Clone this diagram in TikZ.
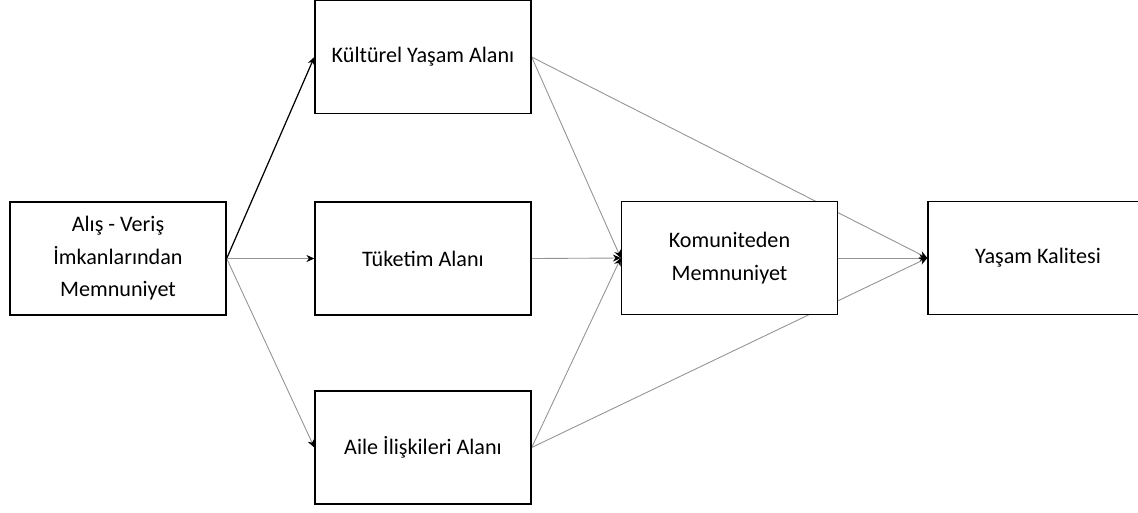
\documentclass[tikz,border=0pt]{standalone}
\usepackage{fontspec}
\setmainfont{Carlito}
\usetikzlibrary{arrows.meta,backgrounds}

\tikzset{
  alanbox/.style={draw,thick,fill=white,minimum width=4.32cm,minimum height=2.26cm,align=center,font=\fontsize{12.6}{18.5}\selectfont},
  yol/.style={draw=gray!85,line width=0.5pt,-{Stealth[length=4.5pt,width=4pt,black]}},
  yolkoyu/.style={draw=black,line width=0.7pt,-{Stealth[length=4.5pt,width=4pt,black]}}
}

\begin{document}
\begin{tikzpicture}[x=0.02cm,y=-0.02cm]
        \clip (0,0) rectangle (1138,512);
        \coordinate (a1) at (118,258.5);
        \coordinate (k1) at (423,57);
        \coordinate (k2) at (423,258.5);
        \coordinate (k3) at (423,447.5);
        \coordinate (m1) at (729.5,258);
        \coordinate (y1) at (1048,258);
        \node[alanbox] (alis) at (a1) {Alış - Veriş\\İmkanlarından\\Memnuniyet};
        \node[alanbox] (kultur) at (k1) {Kültürel Yaşam Alanı};
        \node[alanbox] (tuketim) at (k2) {Tüketim Alanı};
        \node[alanbox] (aile) at (k3) {Aile İlişkileri Alanı};
        \node[alanbox] (komunite) at (m1) {Komuniteden\\Memnuniyet};
        \node[alanbox,minimum width=4.8cm] (yasam) at (y1) {\hspace*{-0.4cm}Yaşam Kalitesi};
        \begin{pgfonlayer}{background}
        \draw[yolkoyu] (alis.east) -- (kultur.west);
        \draw[yol] (alis.east) -- (tuketim.west);
        \draw[yol] (alis.east) -- (aile.west);
        \draw[yol] (kultur.east) -- (komunite.west);
        \draw[yol] (tuketim.east) -- (komunite.west);
        \draw[yol] (aile.east) -- (komunite.west);
        \draw[yol] (kultur.east) -- (yasam.west);
        \draw[yol] (komunite.east) -- (yasam.west);
        \draw[yol] (aile.east) -- (yasam.west);
        \end{pgfonlayer}
    \end{tikzpicture}
\end{document}
